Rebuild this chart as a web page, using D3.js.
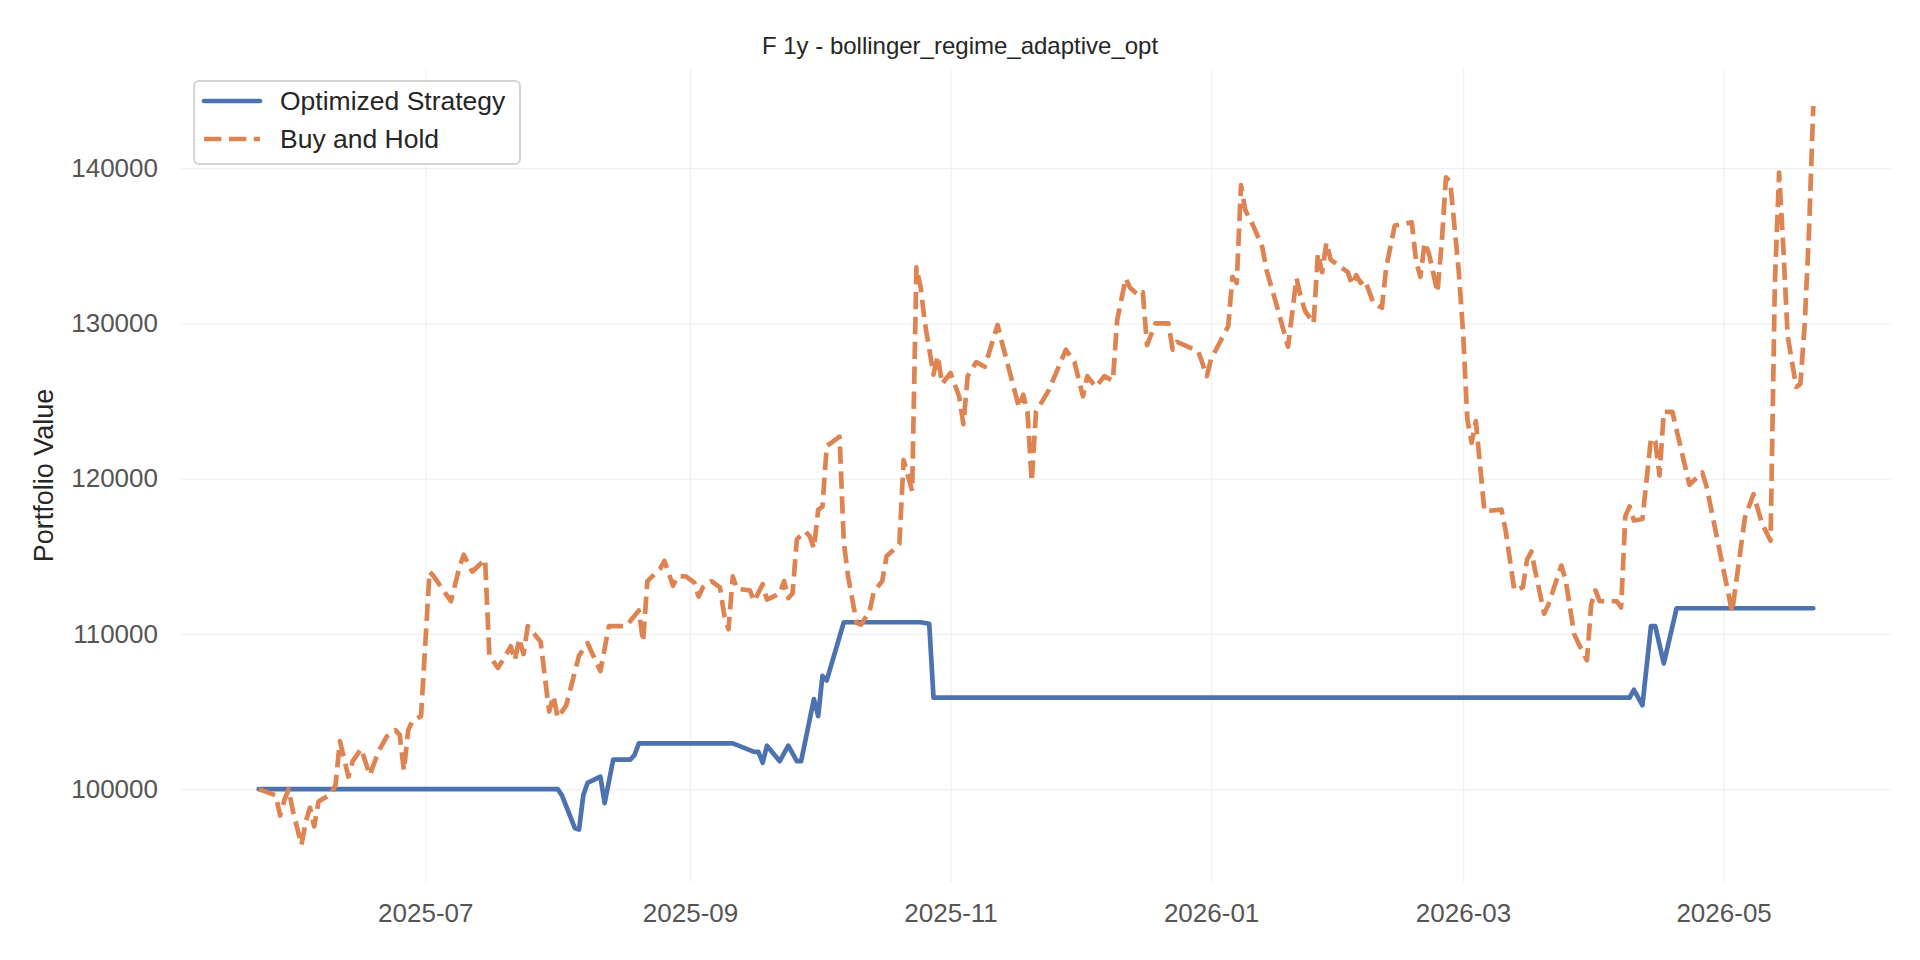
<!DOCTYPE html>
<html>
<head>
<meta charset="utf-8">
<script src="https://cdn.jsdelivr.net/npm/d3@7"></script>
<style>
  html, body { margin: 0; padding: 0; background: #fff; }
  svg { display: block; font-family: "Liberation Sans", Arial, sans-serif; }
</style>
</head>
<body>
<svg id="chart"></svg>
<script>
// chart text
const title = "F 1y - bollinger_regime_adaptive_opt";
const yLabel = "Portfolio Value";
const seriesNames = ["Optimized Strategy", "Buy and Hold"];

// Buy and Hold (orange, dashed)
const bhDates = [
  "2025-05-23","2025-05-27","2025-05-28","2025-05-29","2025-05-30","2025-05-31","2025-06-02","2025-06-03","2025-06-04","2025-06-05",
  "2025-06-06","2025-06-09","2025-06-10","2025-06-11","2025-06-13","2025-06-14","2025-06-16","2025-06-18","2025-06-20","2025-06-22",
  "2025-06-24","2025-06-25","2025-06-26","2025-06-27","2025-06-28","2025-06-30","2025-07-02","2025-07-03","2025-07-07","2025-07-09",
  "2025-07-10","2025-07-12","2025-07-15","2025-07-16","2025-07-18","2025-07-20","2025-07-21","2025-07-22","2025-07-23","2025-07-24",
  "2025-07-25","2025-07-28","2025-07-30","2025-07-31","2025-08-01","2025-08-03","2025-08-06","2025-08-08","2025-08-11","2025-08-13",
  "2025-08-17","2025-08-20","2025-08-21","2025-08-22","2025-08-25","2025-08-26","2025-08-28","2025-08-29","2025-08-31","2025-09-02",
  "2025-09-03","2025-09-04","2025-09-06","2025-09-08","2025-09-09","2025-09-10","2025-09-11","2025-09-12","2025-09-15","2025-09-16",
  "2025-09-18","2025-09-19","2025-09-22","2025-09-23","2025-09-24","2025-09-25","2025-09-26","2025-09-28","2025-09-29","2025-09-30",
  "2025-10-01","2025-10-02","2025-10-03","2025-10-06","2025-10-07","2025-10-08","2025-10-10","2025-10-11","2025-10-13","2025-10-14",
  "2025-10-16","2025-10-17","2025-10-19","2025-10-20","2025-10-21","2025-10-23","2025-10-24","2025-10-25","2025-10-26","2025-10-28",
  "2025-10-29","2025-10-30","2025-11-01","2025-11-03","2025-11-04","2025-11-05","2025-11-07","2025-11-09","2025-11-12","2025-11-13",
  "2025-11-17","2025-11-18","2025-11-19","2025-11-20","2025-11-21","2025-11-24","2025-11-28","2025-11-30","2025-12-02","2025-12-03",
  "2025-12-05","2025-12-07","2025-12-09","2025-12-10","2025-12-12","2025-12-13","2025-12-15","2025-12-16","2025-12-17","2025-12-19",
  "2025-12-22","2025-12-23","2025-12-24","2025-12-29","2025-12-31","2026-01-01","2026-01-05","2026-01-06","2026-01-07","2026-01-08",
  "2026-01-09","2026-01-11","2026-01-13","2026-01-14","2026-01-16","2026-01-19","2026-01-21","2026-01-22","2026-01-23","2026-01-25",
  "2026-01-26","2026-01-27","2026-01-28","2026-01-29","2026-02-02","2026-02-03","2026-02-04","2026-02-05","2026-02-06","2026-02-08",
  "2026-02-10","2026-02-11","2026-02-13","2026-02-17","2026-02-18","2026-02-19","2026-02-20","2026-02-21","2026-02-23","2026-02-24",
  "2026-02-25","2026-02-26","2026-02-28","2026-03-01","2026-03-02","2026-03-03","2026-03-04","2026-03-06","2026-03-10","2026-03-11",
  "2026-03-13","2026-03-15","2026-03-16","2026-03-17","2026-03-18","2026-03-20","2026-03-21","2026-03-24","2026-03-25","2026-03-27",
  "2026-03-28","2026-03-30","2026-03-31","2026-04-01","2026-04-02","2026-04-04","2026-04-06","2026-04-07","2026-04-08","2026-04-09",
  "2026-04-10","2026-04-12","2026-04-14","2026-04-15","2026-04-16","2026-04-17","2026-04-19","2026-04-23","2026-04-26","2026-04-27",
  "2026-05-01","2026-05-03","2026-05-06","2026-05-08","2026-05-10","2026-05-12","2026-05-13","2026-05-14","2026-05-15","2026-05-16",
  "2026-05-18","2026-05-19","2026-05-20","2026-05-21","2026-05-22"
];
const bhValues = [
  100000, 99600, 98300, 99300,100000, 98600, 96400, 97900, 98800, 97600,
   99200, 99700,100300,103100,100800,101800,102600,100900,102400,103400,
  103800,103500,101200,103800,104400,104700,114000,113700,112100,114300,
  115100,114000,114800,108600,107800,108700,109200,108300,109700,108700,
  110500,109500,105000,106000,104600,105400,108600,109400,107600,110500,
  110500,111500,109500,113400,114200,114700,113100,113700,113700,113300,
  112400,113000,113400,113000,111200,110300,113700,112900,112800,112100,
  113200,112200,112600,113400,112300,112600,116100,116600,116300,115500,
  118000,118200,122100,122700,115900,113700,110700,110600,111400,112700,
  113400,115000,115500,115800,121200,119200,133600,132300,130000,126700,
  127900,126100,126800,125300,123500,126600,127500,127200,129900,128800,
  124600,125400,124300,119800,124300,125700,128300,127500,125300,126600,
  125900,126600,126300,130200,132900,132300,131800,132000,128600,130000,
  130000,128300,128800,128200,126600,127700,129800,133000,132600,138900,
  137300,136200,134900,133400,131500,128500,132900,131700,130800,130000,
  134500,133300,135200,134100,133300,132500,133100,132600,132800,131300,
  131000,133600,136300,136500,134000,133000,135200,134500,132000,135200,
  139400,139100,133300,129400,123800,122300,123700,117900,118000,116600,
  112800,113000,114800,115300,113900,111300,111900,114400,113500,110000,
  109400,108300,111900,112800,112100,112100,112100,111700,117600,118200,
  117300,117400,122600,122400,120200,124300,124300,119600,120400,119500,
  114100,111400,117500,119000,117100,116000,132500,139700,134800,129200,
  125900,126100,130000,135900,144000
];

// Optimized Strategy (blue, solid)
const stratDates = [
  "2025-05-23","2025-08-01","2025-08-02","2025-08-05","2025-08-06","2025-08-07","2025-08-08","2025-08-11","2025-08-12","2025-08-14",
  "2025-08-18","2025-08-19","2025-08-20","2025-09-11","2025-09-16","2025-09-17","2025-09-18","2025-09-19","2025-09-22","2025-09-24",
  "2025-09-26","2025-09-27","2025-09-30","2025-10-01","2025-10-02","2025-10-03","2025-10-07","2025-10-25","2025-10-27","2025-10-28",
  "2026-04-09","2026-04-10","2026-04-12","2026-04-14","2026-04-15","2026-04-17","2026-04-20","2026-05-22"
];
const stratValues = [
  100000,100000, 99600, 97500, 97400, 99600,100400,100800, 99100,101900,
  101900,102200,102950,102950,102400,102400,101700,102800,101800,102800,
  101800,101800,105800,104700,107300,107000,110750,110750,110650,105900,
  105900,106400,105400,110500,110500,108100,111650,111650
];

// axis ticks
const yTicks = [100000, 110000, 120000, 130000, 140000];
const xTicks = ["2025-07-01","2025-09-01","2025-11-01","2026-01-01","2026-03-01","2026-05-01"];

const width = 1920;
const height = 960;
const plotLeft = 181;
const plotRight = 1891;
const plotTop = 69;
const plotBottom = 882;

const blue = "#4c72b0";
const orange = "#dd8452";
const gridColor = "#f0f0f0";
const lineWidth = 4.7;

const parse = d3.utcParse("%Y-%m-%d");
const fmt = d3.utcFormat("%Y-%m");

const bh = bhDates.map((d, i) => ({date: parse(d), value: bhValues[i]}));
const strat = stratDates.map((d, i) => ({date: parse(d), value: stratValues[i]}));
const all = bh.concat(strat);

// matplotlib style 5% margins
const tExtent = d3.extent(all, d => d.date);
const tPad = (tExtent[1] - tExtent[0]) * 0.05;
const vExtent = d3.extent(all, d => d.value);
const vPad = (vExtent[1] - vExtent[0]) * 0.05;

const x = d3.scaleUtc()
  .domain([new Date(+tExtent[0] - tPad), new Date(+tExtent[1] + tPad)])
  .range([plotLeft, plotRight]);
const y = d3.scaleLinear()
  .domain([vExtent[0] - vPad, vExtent[1] + vPad])
  .range([plotBottom, plotTop]);

const svg = d3.select("#chart")
  .attr("width", width)
  .attr("height", height)
  .attr("viewBox", [0, 0, width, height]);

svg.append("rect").attr("width", width).attr("height", height).attr("fill", "#ffffff");

// y axis + horizontal grid
svg.append("g")
  .attr("transform", `translate(${plotLeft},0)`)
  .call(d3.axisLeft(y).tickValues(yTicks).tickFormat(d3.format("d"))
    .tickSize(-(plotRight - plotLeft)).tickPadding(23))
  .call(g => g.select(".domain").remove())
  .call(g => g.selectAll(".tick line").attr("stroke", gridColor).attr("stroke-width", 1.3))
  .call(g => g.selectAll(".tick text")
    .attr("fill", "#555555")
    .style("font-size", "26px")
    .style("font-family", "Liberation Sans, Arial, sans-serif"));

// x axis + vertical grid
svg.append("g")
  .attr("transform", `translate(0,${plotBottom})`)
  .call(d3.axisBottom(x).tickValues(xTicks.map(parse)).tickFormat(fmt)
    .tickSize(-(plotBottom - plotTop)).tickPadding(22))
  .call(g => g.select(".domain").remove())
  .call(g => g.selectAll(".tick line").attr("stroke", gridColor).attr("stroke-width", 1.3))
  .call(g => g.selectAll(".tick text")
    .attr("fill", "#555555")
    .style("font-size", "26px")
    .style("font-family", "Liberation Sans, Arial, sans-serif"));

// lines
const line = d3.line()
  .x(d => x(d.date))
  .y(d => y(d.value));

svg.append("path")
  .datum(strat)
  .attr("fill", "none")
  .attr("stroke", blue)
  .attr("stroke-width", lineWidth)
  .attr("stroke-linejoin", "round")
  .attr("stroke-linecap", "round")
  .attr("d", line);

svg.append("path")
  .datum(bh)
  .attr("fill", "none")
  .attr("stroke", orange)
  .attr("stroke-width", lineWidth)
  .attr("stroke-linejoin", "round")
  .attr("stroke-dasharray", "17.4,7.5")
  .attr("d", line);

// title
svg.append("text")
  .attr("x", width / 2)
  .attr("y", 54)
  .attr("text-anchor", "middle")
  .attr("fill", "#262626")
  .style("font-size", "24px")
  .text(title);

// y label
svg.append("text")
  .attr("transform", `translate(44,${(plotTop + plotBottom) / 2}) rotate(-90)`)
  .attr("text-anchor", "middle")
  .attr("dominant-baseline", "central")
  .attr("fill", "#262626")
  .style("font-size", "27px")
  .text(yLabel);

// legend
const legend = svg.append("g");
legend.append("rect")
  .attr("x", 194).attr("y", 81)
  .attr("width", 326).attr("height", 83)
  .attr("rx", 5)
  .attr("fill", "#ffffff").attr("fill-opacity", 0.8)
  .attr("stroke", "#d4d4d4").attr("stroke-width", 2);

const legendItems = [
  {name: seriesNames[0], color: blue, dash: null, cap: "round"},
  {name: seriesNames[1], color: orange, dash: "17.4,7.5", cap: "butt"}
];
legendItems.forEach((item, i) => {
  const cy = 101 + i * 38;
  legend.append("line")
    .attr("x1", 204).attr("x2", 260)
    .attr("y1", cy).attr("y2", cy)
    .attr("stroke", item.color)
    .attr("stroke-width", lineWidth)
    .attr("stroke-linecap", item.cap)
    .attr("stroke-dasharray", item.dash);
  legend.append("text")
    .attr("x", 280).attr("y", cy)
    .attr("dominant-baseline", "central")
    .attr("fill", "#262626")
    .style("font-size", "26.5px")
    .text(item.name);
});
</script>
</body>
</html>
